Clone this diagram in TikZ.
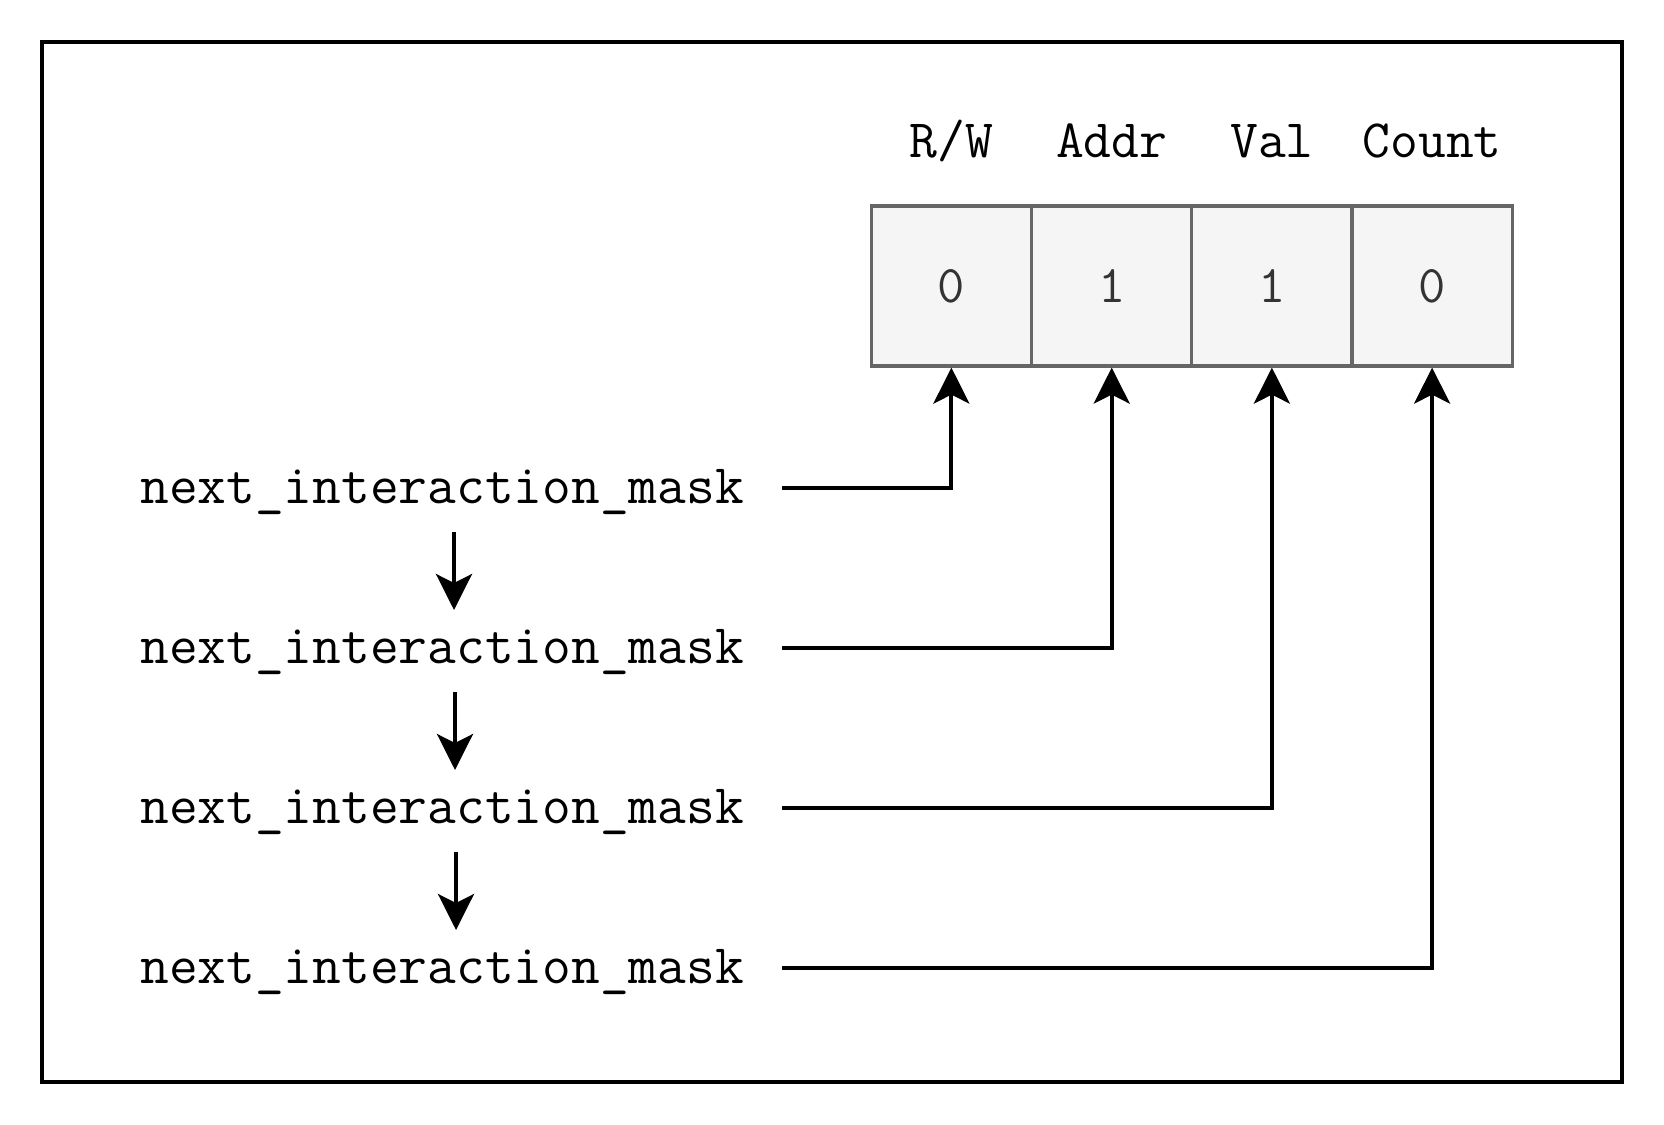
\documentclass[tikz,border=0pt]{standalone}
\usepackage{fontspec}
\usetikzlibrary{arrows.meta}
\definecolor{cellline}{HTML}{666666}
\definecolor{cellfill}{HTML}{F5F5F5}
\definecolor{celltext}{HTML}{333333}

\begin{document}
\begin{tikzpicture}[x=0.5pt,y=-0.5pt,
  cell/.style={draw=cellline,line width=1.6pt,fill=cellfill,minimum width=80.15pt,minimum height=80pt,inner sep=0pt,text=celltext,font=\ttfamily\fontsize{26.5}{30}\selectfont},
  head/.style={anchor=base,font=\ttfamily\fontsize{27}{30}\selectfont},
  mask/.style={font=\ttfamily\fontsize{27.9}{32}\selectfont,inner xsep=0pt,inner ysep=0pt,text height=15pt,text depth=0pt},
  link/.style={line width=2pt,-{Stealth[length=18pt,width=18pt,inset=4.5pt]}}]
  \useasboundingbox (0,0) rectangle (1664,1124);
  \draw[line width=2pt] (42,42) rectangle (1622,1082);
  % the four flag cells
  \node[cell] (rw) at (951.4,286) {0};
  \node[cell] (addr) at (1111.7,286) {1};
  \node[cell] (val) at (1271.9,286) {1};
  \node[cell] (count) at (1432.1,286) {0};
  \node[head] (rwhead) at (951.4,157) {R/W};
  \node[head] (addrhead) at (1111.7,157) {Addr};
  \node[head] (valhead) at (1271.9,157) {Val};
  \node[head] (counthead) at (1432.1,157) {Count};
  % the chain of masks
  \node[mask] (m1) at (442,488) {next\_interaction\_mask};
  \node[mask] (m2) at (442,648) {next\_interaction\_mask};
  \node[mask] (m3) at (442,808) {next\_interaction\_mask};
  \node[mask] (m4) at (442,968) {next\_interaction\_mask};
  \draw[link,shorten <=22pt,shorten >=19pt] ([xshift=6pt]m1.center) -- ([xshift=6pt]m2.center);
  \draw[link,shorten <=22pt,shorten >=19pt] ([xshift=6.5pt]m2.center) -- ([xshift=6.5pt]m3.center);
  \draw[link,shorten <=22pt,shorten >=19pt] ([xshift=7pt]m3.center) -- ([xshift=7pt]m4.center);
  \draw[link] ([xshift=19pt]m1.east) -| (rw.south);
  \draw[link] ([xshift=19pt]m2.east) -| (addr.south);
  \draw[link] ([xshift=19pt]m3.east) -| (val.south);
  \draw[link] ([xshift=19pt]m4.east) -| (count.south);
\end{tikzpicture}
\end{document}
